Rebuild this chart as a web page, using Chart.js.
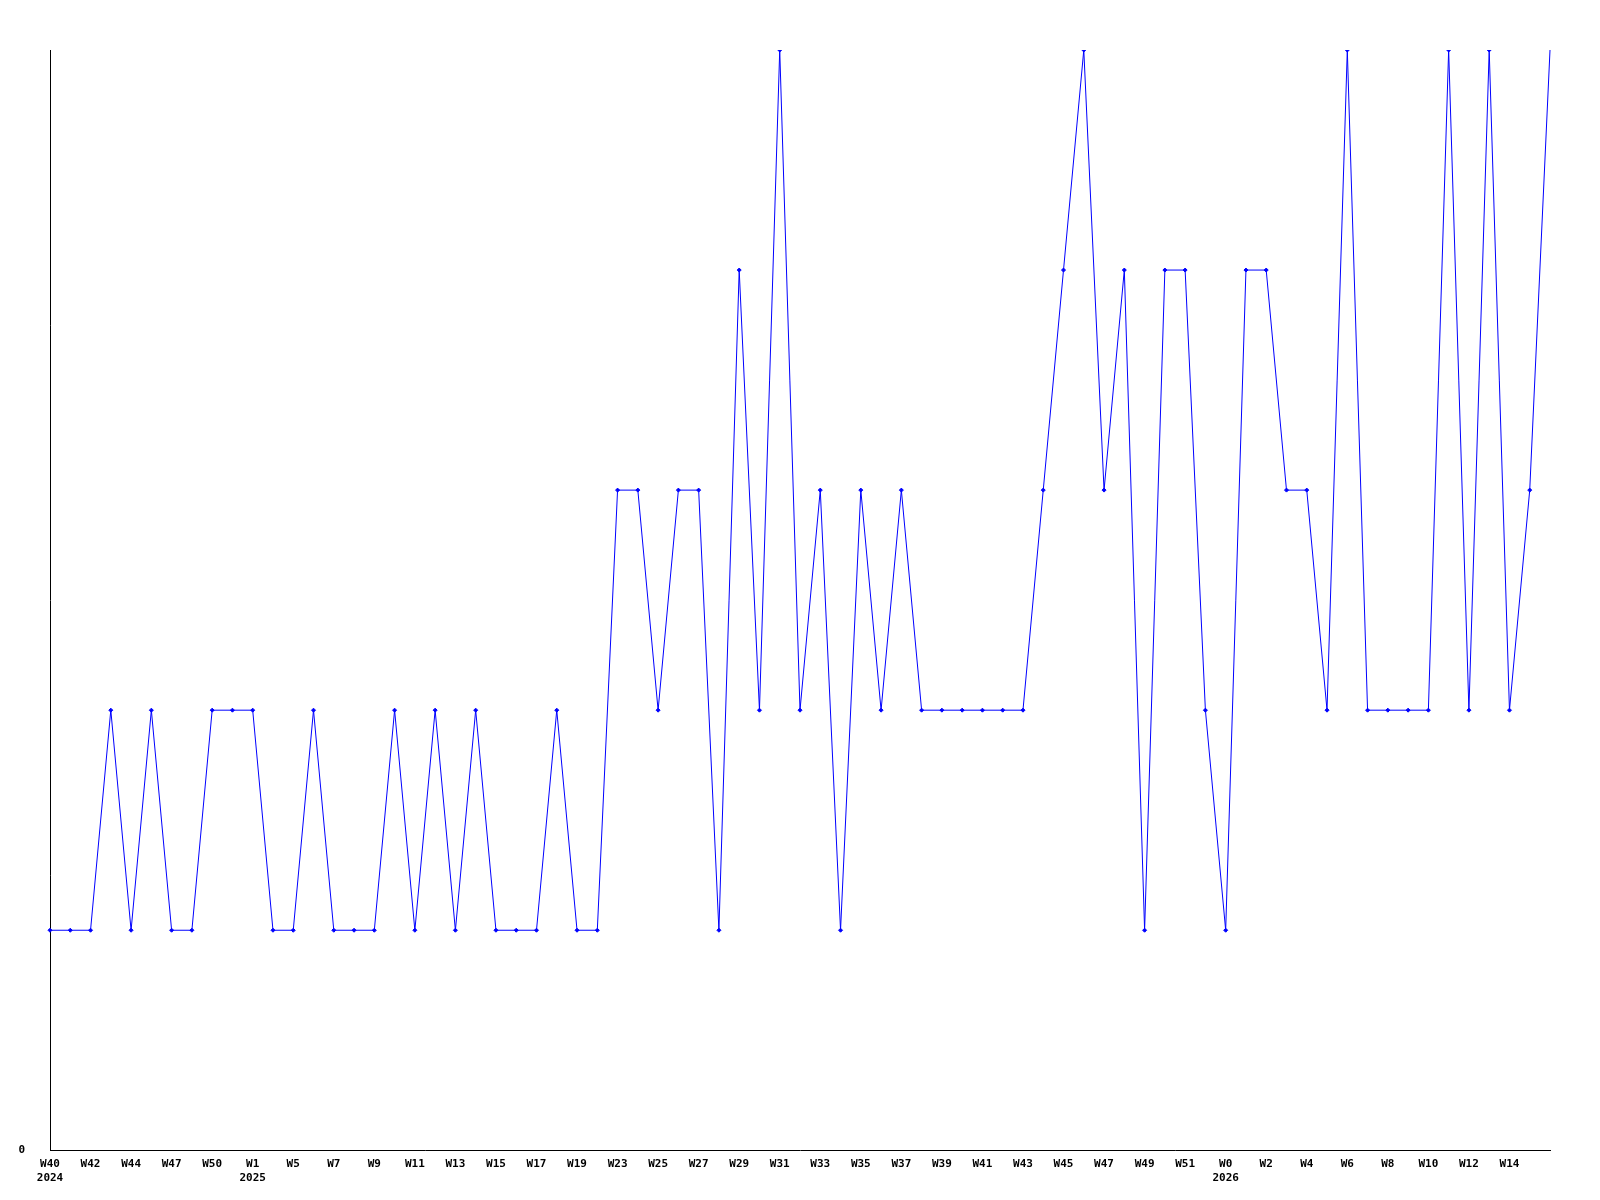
<!DOCTYPE html>
<html>
<head>
<meta charset="utf-8">
<script src="https://cdn.jsdelivr.net/npm/chart.js@4"></script>
<style>
  html, body { margin: 0; padding: 0; background: #fff; }
</style>
</head>
<body>
<canvas id="myChart" width="1600" height="1200"></canvas>
<script>
const weeks = ['W40','W41','W42','W43','W44','W45','W47','W48','W50','W51',
  'W1','W3','W5','W6','W7','W8','W9','W10','W11','W12',
  'W13','W14','W15','W16','W17','W18','W19','W21','W23','W24',
  'W25','W26','W27','W28','W29','W30','W31','W32','W33','W34',
  'W35','W36','W37','W38','W39','W40','W41','W42','W43','W44',
  'W45','W46','W47','W48','W49','W50','W51','W52','W0','W1',
  'W2','W3','W4','W5','W6','W7','W8','W9','W10','W11',
  'W12','W13','W14','W15','W16'];
const years = ['2024', '2025', '2026'];
const yearIndex = [0, 10, 58];
const counts = [1,1,1,2,1,2,1,1,2,2,
  2,1,1,2,1,1,1,2,1,2,
  1,2,1,1,1,2,1,1,3,3,
  2,3,3,1,4,2,5,2,3,1,
  3,2,3,2,2,2,2,2,2,3,
  4,5,3,4,1,4,4,2,1,4,
  4,3,3,2,5,2,2,2,2,5,
  2,5,2,3,5];
const yMax = 5;

const ctx = document.getElementById('myChart').getContext('2d');
const last = counts.length - 1;

new Chart(ctx, {
  type: 'line',
  data: {
    labels: weeks,
    datasets: [{
      data: counts,
      borderColor: '#0000ff',
      backgroundColor: '#0000ff',
      borderWidth: 1,
      tension: 0,
      fill: false,
      pointStyle: 'rectRot',
      pointRadius: c => c.dataIndex === last ? 0 : 2,
      pointBorderWidth: 1
    }]
  },
  options: {
    responsive: false,
    animation: false,
    layout: { padding: { left: 18, right: 50, top: 50, bottom: 8 } },
    plugins: { legend: { display: false }, tooltip: { enabled: false } },
    scales: {
      x: {
        grid: { display: false, drawTicks: false },
        border: { display: true, color: '#000', width: 1 },
        ticks: {
          autoSkip: false,
          maxRotation: 0,
          color: '#000',
          padding: 6,
          font: { family: 'DejaVu Sans Mono', weight: 'bold', size: 11, lineHeight: 1.35 },
          callback: function (v, i) {
            if (i % 2 || i === last) return '';
            const y = yearIndex.indexOf(i);
            return y >= 0 ? [weeks[i], years[y]] : weeks[i];
          }
        }
      },
      y: {
        min: 0,
        max: yMax,
        afterFit: s => { s.width = 32; },
        grid: { display: false, drawTicks: false },
        border: { display: true, color: '#000', width: 1 },
        ticks: {
          stepSize: yMax,
          color: '#000',
          padding: 25,
          font: { family: 'DejaVu Sans Mono', weight: 'bold', size: 11 },
          callback: v => v === 0 ? '0' : ''
        }
      }
    }
  }
});
</script>
</body>
</html>
